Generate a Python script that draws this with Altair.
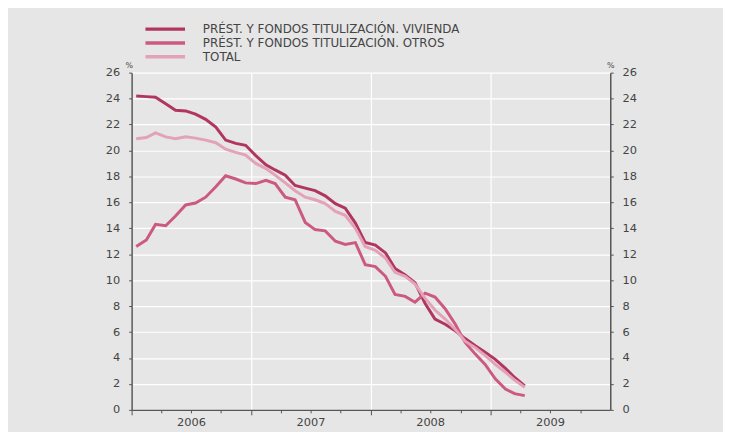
import altair as alt
import pandas as pd

# Monthly observations, Jan 2006 - Apr 2009 (mid-month)
months = [f"{2006 + i // 12}-{i % 12 + 1:02d}-15" for i in range(40)]

vivienda = [24.2, 24.15, 24.1, 23.6, 23.1, 23.05, 22.8, 22.4, 21.8, 20.8, 20.55, 20.4,
            19.6, 18.9, 18.5, 18.1, 17.3, 17.1, 16.9, 16.5, 15.9, 15.55, 14.4, 12.9,
            12.7, 12.1, 10.9, 10.4, 9.8, 8.2, 7.0, 6.6, 6.1, 5.5, 4.95, 4.45, 3.9, 3.2, 2.5, 1.85]
otros = [12.6, 13.1, 14.3, 14.2, 14.95, 15.8, 15.95, 16.4, 17.2, 18.05, 17.8, 17.5,
         17.45, 17.7, 17.45, 16.4, 16.2, 14.45, 13.9, 13.8, 13.0, 12.75, 12.9, 11.2,
         11.05, 10.3, 8.9, 8.75, 8.3, 9.0, 8.7, 7.8, 6.6, 5.2, 4.3, 3.5, 2.4, 1.6, 1.25, 1.1]
total = [20.9, 21.0, 21.35, 21.05, 20.9, 21.05, 20.95, 20.8, 20.6, 20.1, 19.85, 19.65,
         19.0, 18.6, 18.1, 17.5, 16.9, 16.4, 16.2, 15.9, 15.3, 15.0, 14.0, 12.6,
         12.3, 11.7, 10.6, 10.3, 9.7, 8.6, 7.7, 7.0, 6.2, 5.3, 4.8, 4.2, 3.5, 2.9, 2.3, 1.75]

series_names = ["PRÉST. Y FONDOS TITULIZACIÓN. VIVIENDA",
                "PRÉST. Y FONDOS TITULIZACIÓN. OTROS",
                "TOTAL"]
series_colors = ["#b0365f", "#cc5a80", "#e3a2b7"]

y_ticks = list(range(0, 27, 2))
x_ticks = [alt.DateTime(year=y, month=m, date=1) for y in (2006, 2007, 2008, 2009) for m in (1, 4, 7, 10)]

rows = []
for name, vals in zip(series_names, (vivienda, otros, total)):
    for d, v in zip(months, vals):
        rows.append({"fecha": d, "valor": v, "serie": name})
df = pd.DataFrame(rows)

FONT = "DejaVu Sans"
TXT = "#444444"
AX = "#555555"
BG = "#e6e6e6"

x_scale = alt.Scale(domain=[alt.DateTime(year=2006, month=1, date=1),
                            alt.DateTime(year=2010, month=1, date=1)])

x_enc = alt.X(
    "fecha:T",
    scale=x_scale,
    axis=alt.Axis(
        values=x_ticks, title=None,
        labelExpr="month(datum.value) == 0 ? timeFormat(datum.value, '%Y') : ''",
        labelOffset=60, labelPadding=2, labelFont=FONT, labelFontSize=11.5, labelColor=TXT,
        labelOverlap=False, labelFlush=False, labelBound=False,
        grid=True,
        gridColor={"condition": {"test": "month(datum.value) == 0", "value": "white"},
                   "value": "transparent"},
        gridWidth=1.2,
        domainColor=AX, domainWidth=1.5,
        tickColor=AX,
        tickSize={"condition": {"test": "month(datum.value) == 0", "value": 5}, "value": 3},
    ),
)

y_scale = alt.Scale(domain=[0, 26], nice=False, zero=True)

lines = alt.Chart(df).mark_line(strokeWidth=3).encode(
    x=x_enc,
    y=alt.Y("valor:Q", scale=y_scale,
            axis=alt.Axis(values=y_ticks, title="%", titleAngle=0, titleX=-3, titleY=-3,
                          titleAlign="center", titleBaseline="bottom",
                          titleFont=FONT, titleFontSize=8, titleFontWeight="normal",
                          titleColor=TXT,
                          labelFont=FONT, labelFontSize=11.5, labelColor=TXT, labelPadding=9,
                          grid=True, gridColor="white", gridWidth=1.2,
                          domainColor=AX, domainWidth=1.5, tickColor=AX, tickSize=3)),
    color=alt.Color("serie:N", sort=series_names,
                    scale=alt.Scale(domain=series_names, range=series_colors),
                    legend=alt.Legend(orient="none", legendX=27, legendY=-51, title=None,
                                      symbolType="M-4,0H4", symbolSize=100,
                                      symbolStrokeWidth=3.5, labelFont=FONT,
                                      labelFontSize=12, labelColor=TXT, labelOffset=31,
                                      labelLimit=0, rowPadding=-1.5)),
    order=alt.Order("serie:N"),
)

right = alt.Chart(df).mark_line(opacity=0).encode(
    x=alt.X("fecha:T", scale=x_scale, axis=None),
    y=alt.Y("valor:Q", scale=y_scale,
            axis=alt.Axis(orient="right", values=y_ticks, title="%", titleAngle=0,
                          titleX=0, titleY=-3, titleAlign="center", titleBaseline="bottom",
                          titleFont=FONT, titleFontSize=8, titleFontWeight="normal",
                          titleColor=TXT,
                          labelFont=FONT, labelFontSize=11.5, labelColor=TXT, labelPadding=9,
                          grid=False, domainColor=AX, domainWidth=1.5,
                          tickColor=AX, tickSize=3)),
    detail="serie:N",
)

chart = alt.layer(lines, right).resolve_axis(y="independent", x="independent").properties(
    width=484, height=341,
    autosize=alt.AutoSizeParams(type="none"),
    padding={"left": 125, "top": 63, "right": 114, "bottom": 20},
    background=BG,
).configure_view(stroke=None, fill=BG)

chart.save("out.html", embed_options={"renderer": "svg", "actions": False})
